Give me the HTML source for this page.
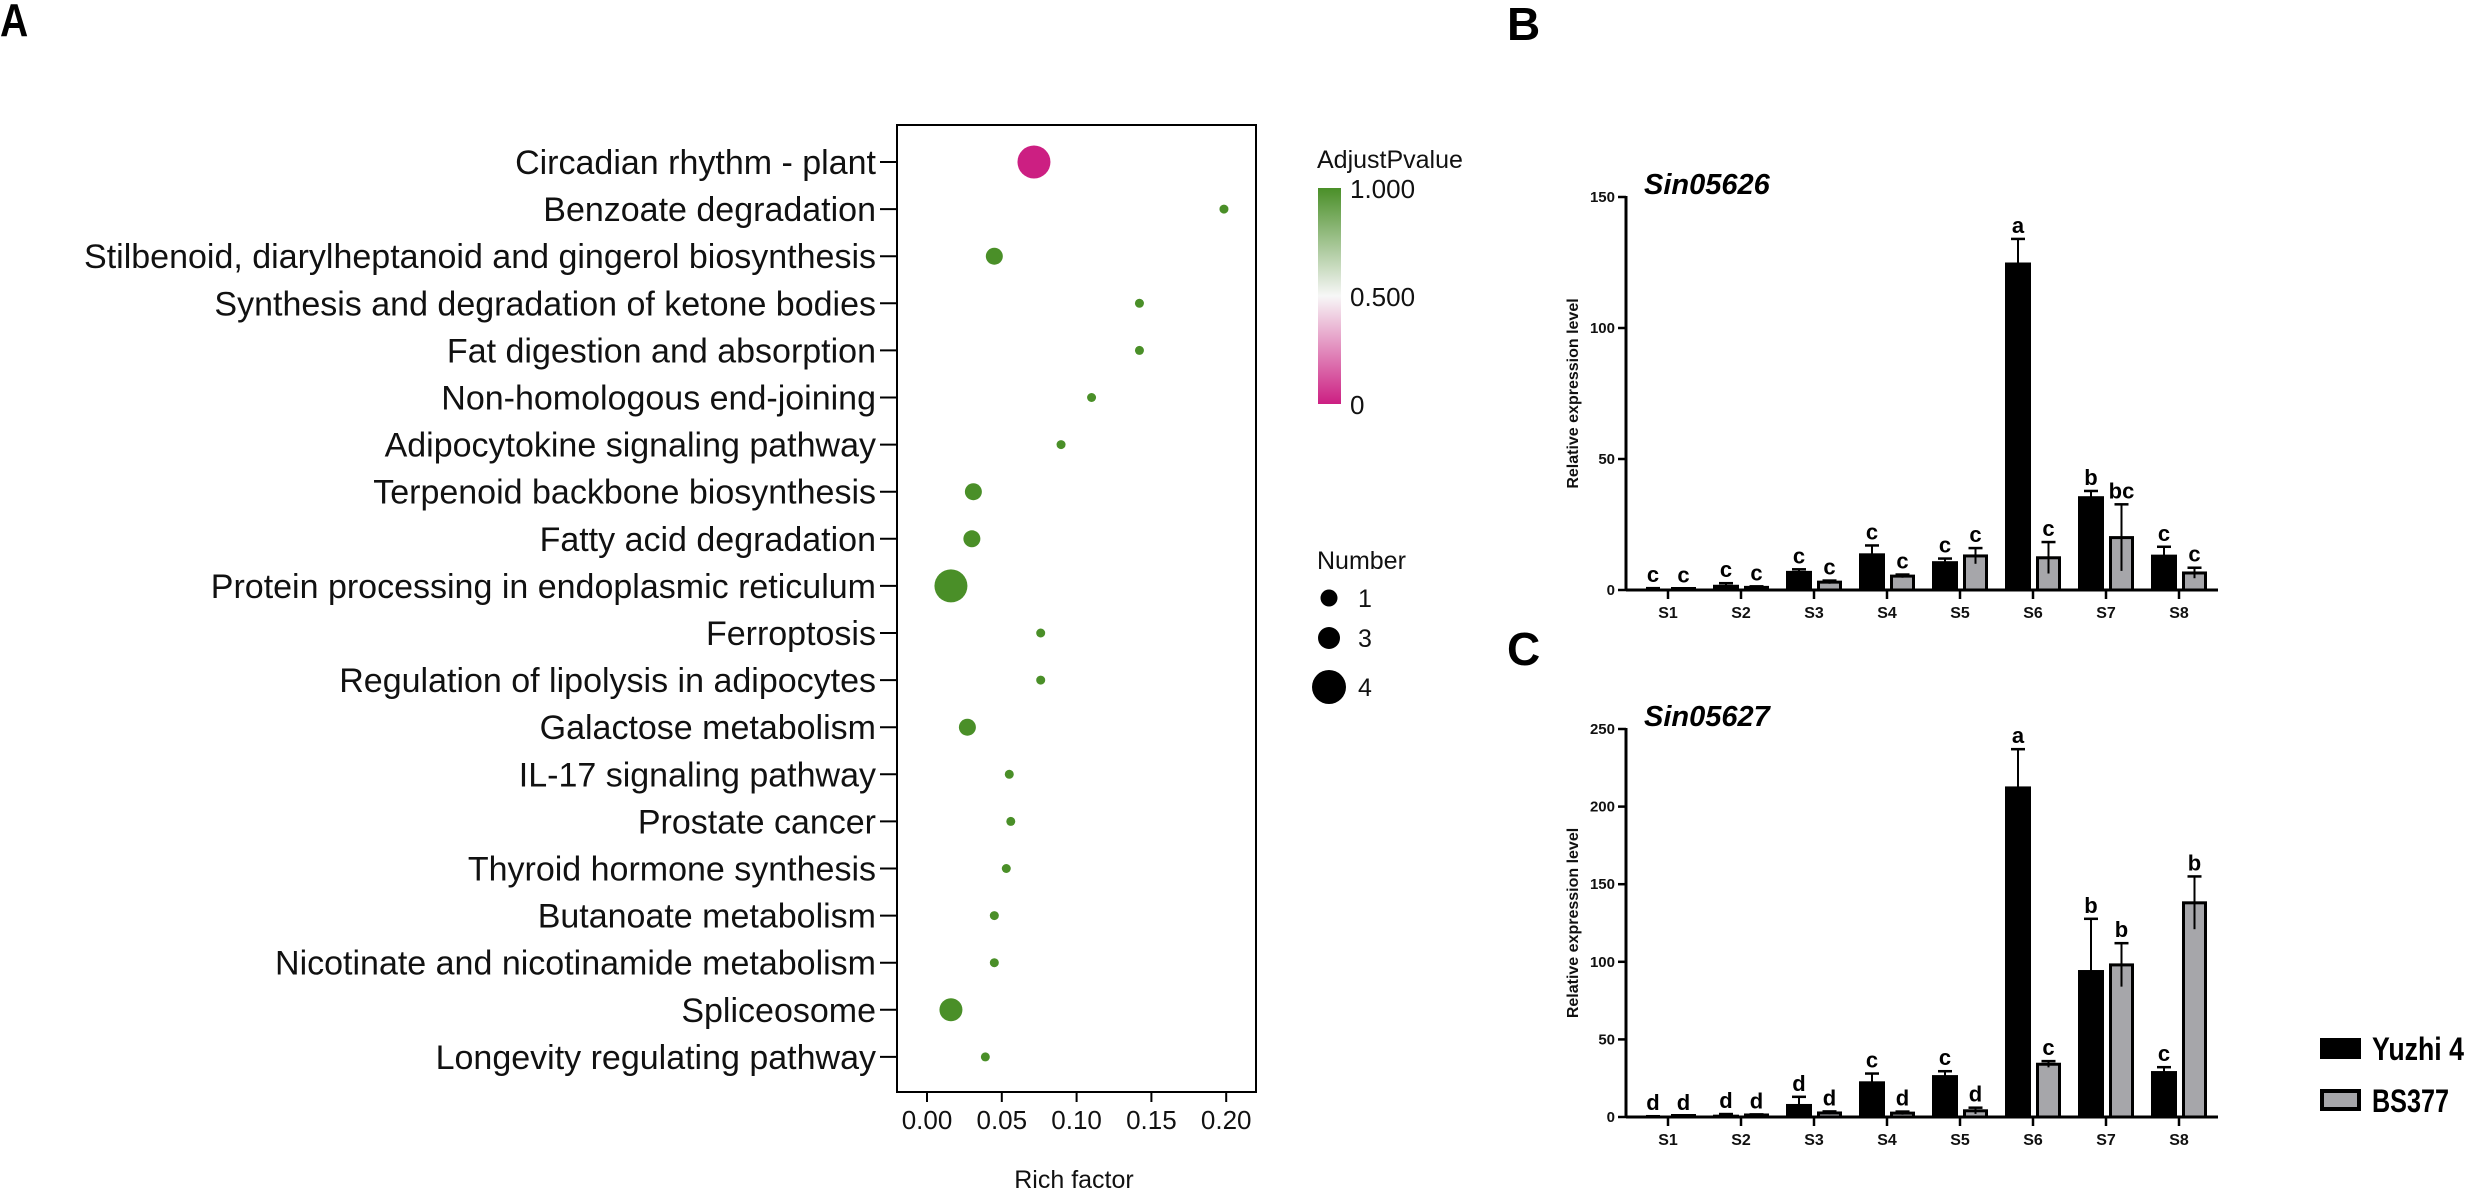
<!DOCTYPE html>
<html>
<head>
<meta charset="utf-8">
<style>
  html,body{margin:0;padding:0;background:#fff;}
  svg{display:block;font-family:"Liberation Sans",Arial,sans-serif;}
</style>
</head>
<body>
<svg id="fig" width="2465" height="1195" viewBox="0 0 2465 1195" xmlns="http://www.w3.org/2000/svg">
  <defs>
    <linearGradient id="pgrad" x1="0" y1="0" x2="0" y2="1">
      <stop offset="0" stop-color="#4a8f28"/>
      <stop offset="0.5" stop-color="#f7f7f7"/>
      <stop offset="1" stop-color="#cc1f82"/>
    </linearGradient>
  </defs>
  <text x="0" y="36" font-size="46" font-weight="bold" transform="scale(0.85,1)">A</text>
  <text x="1507" y="40" font-size="46" font-weight="bold">B</text>
  <text x="1507" y="665" font-size="46" font-weight="bold">C</text>
  <g id="dotplot"></g>
  <g id="chartB"></g>
  <g id="chartC"></g>
  <g id="barLegend"></g>
</svg>
<script>
// ---------- Dot plot data ----------
const pathways = ["Circadian rhythm - plant","Benzoate degradation","Stilbenoid, diarylheptanoid and gingerol biosynthesis","Synthesis and degradation of ketone bodies","Fat digestion and absorption","Non-homologous end-joining","Adipocytokine signaling pathway","Terpenoid backbone biosynthesis","Fatty acid degradation","Protein processing in endoplasmic reticulum","Ferroptosis","Regulation of lipolysis in adipocytes","Galactose metabolism","IL-17 signaling pathway","Prostate cancer","Thyroid hormone synthesis","Butanoate metabolism","Nicotinate and nicotinamide metabolism","Spliceosome","Longevity regulating pathway"];
const richFactor = [0.0715,0.1985,0.045,0.142,0.142,0.110,0.0896,0.031,0.030,0.016,0.076,0.076,0.027,0.055,0.056,0.053,0.045,0.045,0.016,0.039];
const geneNumber = [4,1,2,1,1,1,1,2,2,4,1,1,2,1,1,1,1,1,3,1];
const adjP = [0.0,1,1,1,1,1,1,1,1,1,1,1,1,1,1,1,1,1,1,1];
const xTicks = [0.00,0.05,0.10,0.15,0.20];
const xTickLabels = ["0.00","0.05","0.10","0.15","0.20"];
const pLabels = ["1.000","0.500","0"];
const pLabelVals = [1,0.5,0];
const sizeLegend = [1,3,4];

// ---------- Bar chart data ----------
const samples = ["S1","S2","S3","S4","S5","S6","S7","S8"];
const b_yuzhi = [0.5,2,7.3,14,11,125,35.8,13.5];
const b_yuzhiErr = [0.2,0.6,0.6,3,1,9,2,3];
const b_bs = [0.3,1,3,5.3,13,12.3,20,6.5];
const b_bsErr = [0.2,0.4,0.6,0.6,3,6,12.7,2];
const b_yuzhiLet = ["c","c","c","c","c","a","b","c"];
const b_bsLet = ["c","c","c","c","c","c","bc","c"];
const b_ticks = [0,50,100,150];
const c_yuzhi = [0.3,1.5,8.4,23,27,213,94.7,29.6];
const c_yuzhiErr = [0.2,0.4,4.6,5,2.5,24,33,2.5];
const c_bs = [0.3,1.3,2.6,2.5,4,34,98,138];
const c_bsErr = [0.2,0.4,1,1,2,2,14,17];
const c_yuzhiLet = ["d","d","d","c","c","a","b","c"];
const c_bsLet = ["d","d","d","d","d","c","b","b"];
const c_ticks = [0,50,100,150,200,250];

const NS="http://www.w3.org/2000/svg";
function mk(parent, tag, attrs, text){
  const e=document.createElementNS(NS,tag);
  for(const k in attrs) e.setAttribute(k,attrs[k]);
  if(text!==undefined) e.textContent=text;
  parent.appendChild(e);
  return e;
}

// ----- Dot plot -----
(function(){
  const g=document.getElementById('dotplot');
  const L=897,R=1256,T=125,B=1092;
  const x0=927, pxPer=74.8/0.05;
  const xs=v=>x0+v*pxPer;
  const ys=i=>162+i*47.1;
  const rs=n=>[0,4.5,8.5,11.5,16.5][n];
  const col=p=>{
    const pink=[204,31,130], white=[247,247,247], green=[74,143,40];
    let a,b,t;
    if(p<0.5){a=pink;b=white;t=p/0.5;}else{a=white;b=green;t=(p-0.5)/0.5;}
    return 'rgb('+a.map((c,k)=>Math.round(c+(b[k]-c)*t)).join(',')+')';
  };
  const box=mk(g,'rect',{x:L,y:T,width:R-L,height:B-T,fill:'none',stroke:'#000','stroke-width':2});
  
  
  pathways.forEach((p,i)=>{
    const t=mk(g,'line',{x1:880,x2:L,y1:ys(i),y2:ys(i),stroke:'#000','stroke-width':2});
    
    
    const lb=mk(g,'text',{x:876,y:ys(i)+12,'font-size':34,'text-anchor':'end',fill:'#111'},p);
    
    
    const c=mk(g,'circle',{cx:xs(richFactor[i]),cy:ys(i),r:rs(geneNumber[i]),fill:col(adjP[i])});
    
    
  });
  xTicks.forEach((v,i)=>{
    const t=mk(g,'line',{x1:xs(v),x2:xs(v),y1:B,y2:B+10,stroke:'#000','stroke-width':2});
    
    
    const lb=mk(g,'text',{x:xs(v),y:B+37,'font-size':26,'text-anchor':'middle',fill:'#111'},xTickLabels[i]);
    
    
  });
  const xt=mk(g,'text',{x:1074,y:1188,'font-size':25,'text-anchor':'middle',fill:'#111'},'Rich factor');
  
  
  const lt=mk(g,'text',{x:1317,y:168,'font-size':25,fill:'#111'},'AdjustPvalue');
  
  
  const cb=mk(g,'rect',{x:1318,y:188,width:23,height:216,fill:'url(#pgrad)'});
  
  
  pLabels.forEach((s,i)=>{
    const y=404-pLabelVals[i]*216;
    const tl=mk(g,'text',{x:1350,y:y+10,'font-size':26,fill:'#111'},s);
    
    
  });
  const nt=mk(g,'text',{x:1317,y:569,'font-size':25,fill:'#111'},'Number');
  
  
  const legR=[8.5,11,17], legY=[598,638,687];
  sizeLegend.forEach((n,i)=>{
    const c=mk(g,'circle',{cx:1329,cy:legY[i],r:legR[i],fill:'#000'});
    
    
    const tl=mk(g,'text',{x:1358,y:legY[i]+9,'font-size':25,fill:'#111'},String(n));
    
    
  });
})();

// ----- Bar charts -----
function barChart(gid, title, ticks, maxV, base, top, yz, ye, bz, be, yl, bl, titleY){
  const g=document.getElementById(gid);
  const ax=1626, xEnd=2218;
  const k=(base-top)/maxV;
  const ys=v=>base-v*k;
  const xc=i=>1668+i*73;
  const tt=mk(g,'text',{x:1644,y:titleY,'font-size':29,'font-weight':'bold','font-style':'italic',fill:'#000'},title);
  
  
  const yl1=mk(g,'line',{x1:ax,x2:ax,y1:top-1,y2:base+1,stroke:'#000','stroke-width':3});
  
  
  ticks.forEach(v=>{
    const t=mk(g,'line',{x1:ax-8,x2:ax,y1:ys(v),y2:ys(v),stroke:'#000','stroke-width':2.5});
    
    
    const lb=mk(g,'text',{x:ax-11,y:ys(v)+5,'font-size':15,'font-weight':'bold','text-anchor':'end',fill:'#111'},String(v));
    
    
  });
  const yt=mk(g,'text',{x:0,y:0,'font-size':16,'font-weight':'bold','text-anchor':'middle',fill:'#111',transform:'translate(1578,'+((base+top)/2)+') rotate(-90)'},'Relative expression level');
  
  
  samples.forEach((s,i)=>{
    const cx=xc(i);
    const h1=Math.max(base-ys(yz[i]),1.5);
    const r1=mk(g,'rect',{x:cx-28,y:base-h1,width:26,height:h1,fill:'#000'});
    
    
    const h2=Math.max(base-ys(bz[i]),1.5);
    const r2=mk(g,'rect',{x:cx+4.5,y:base-h2,width:22,height:h2,fill:'#a6a6aa',stroke:'#000','stroke-width':3});
    
    
    [[cx-15,yz[i],ye[i],yl[i]],[cx+15.5,bz[i],be[i],bl[i]]].forEach(([x,v,e,l])=>{
      const e1=mk(g,'line',{x1:x,x2:x,y1:ys(v-e),y2:ys(v+e),stroke:'#000','stroke-width':2});
      
      
      const e2=mk(g,'line',{x1:x-7,x2:x+7,y1:ys(v+e),y2:ys(v+e),stroke:'#000','stroke-width':2.5});
      
      
      const lt=mk(g,'text',{x:x,y:ys(v+e)-6,'font-size':22,'font-weight':'bold','text-anchor':'middle',fill:'#000'},l);
      
      
    });
    const tk=mk(g,'line',{x1:cx,x2:cx,y1:base,y2:base+9,stroke:'#000','stroke-width':2.5});
    
    
    const sl=mk(g,'text',{x:cx,y:base+28,'font-size':16,'font-weight':'bold','text-anchor':'middle',fill:'#111'},s);
    
    
  });
  const xl=mk(g,'line',{x1:ax,x2:xEnd,y1:base,y2:base,stroke:'#000','stroke-width':3});
  
  
}
barChart('chartB','Sin05626',b_ticks,150,590,197,b_yuzhi,b_yuzhiErr,b_bs,b_bsErr,b_yuzhiLet,b_bsLet,194);
barChart('chartC','Sin05627',c_ticks,250,1117,729,c_yuzhi,c_yuzhiErr,c_bs,c_bsErr,c_yuzhiLet,c_bsLet,726);

// ----- Legend -----
(function(){
  const g=document.getElementById('barLegend');
  const r1=mk(g,'rect',{x:2320,y:1038,width:41,height:21,fill:'#000'});
  
  
  const t1=mk(g,'text',{x:2372,y:1060,'font-size':32,'font-weight':'bold',fill:'#000',textLength:92,lengthAdjust:'spacingAndGlyphs'},'Yuzhi 4');
  
  
  const r2=mk(g,'rect',{x:2322,y:1091,width:37,height:18,fill:'#a6a6aa',stroke:'#000','stroke-width':4});
  
  
  const t2=mk(g,'text',{x:2372,y:1112,'font-size':32,'font-weight':'bold',fill:'#000',textLength:77,lengthAdjust:'spacingAndGlyphs'},'BS377');
  
  
})();
</script>
</body>
</html>
